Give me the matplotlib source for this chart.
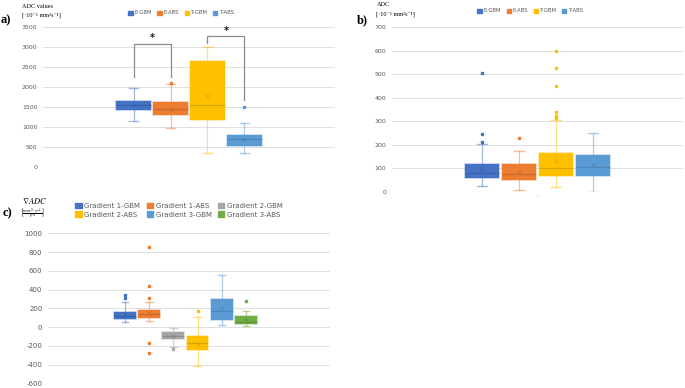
import numpy as np
import matplotlib
matplotlib.use("Agg")
import matplotlib.pyplot as plt
from matplotlib.patches import Patch
from matplotlib.colors import to_rgba

# ---- data ----
# panel a: ADC values [10^-6 mm^2 s^-1]
a_labels = ["E-GBM", "E-ABS", "T-GBM", "T-ABS"]
a_whislo = [1150, 980, 350, 350]
a_q1 = [1430, 1290, 1170, 520]
a_med = [1560, 1460, 1550, 700]
a_q3 = [1660, 1620, 2660, 800]
a_whishi = [1970, 2080, 3000, 1110]
a_mean = [1550, 1460, 1780, 710]
a_fliers = [[], [2100], [], [1510]]

# significance brackets in panel a: (left box, right box, top, left drop, right drop)
a_brackets = [(1, 2, 3080, 2250, 2250), (3, 4, 3275, 3110, 1670)]

# panel b: ADC [10^-6 mm^2 s^-1]
b_labels = ["E-GBM", "E-ABS", "T-GBM", "T-ABS"]
b_whislo = [24, 10, 20, 0]
b_q1 = [58, 50, 66, 66]
b_med = [82, 78, 103, 106]
b_q3 = [120, 117, 164, 157]
b_whishi = [202, 172, 304, 251]
b_mean = [99, 86, 131, 113]
b_fliers = [[213, 244, 503], [227], [315, 323, 339, 448, 524, 599], []]

# panel c: gradient of ADC
c_labels = ["Gradient 1-GBM", "Gradient 1-ABS", "Gradient 2-GBM",
            "Gradient 2-ABS", "Gradient 3-GBM", "Gradient 3-ABS"]
c_whislo = [49, 64, -210, -417, 25, 7]
c_q1 = [81, 99, -128, -240, 78, 28]
c_med = [120, 138, -92, -173, 169, 49]
c_q3 = [162, 177, -57, -99, 297, 113]
c_whishi = [272, 265, -14, 106, 558, 176]
c_mean = [134, 152, -100, -178, 205, 81]
c_fliers = [[311, 342], [307, 438, 858, -173, -279], [-232], [169], [], [279]]

ab_colors = ["#4472C4", "#ED7D31", "#FFC000", "#5B9BD5"]
c_colors = ["#4472C4", "#ED7D31", "#A5A5A5", "#FFC000", "#5B9BD5", "#70AD47"]

W, H = 685, 388
fig = plt.figure(figsize=(W / 100, H / 100), dpi=100)

tick_col = "#595959"
grid_col = "#D9D9D9"
serif = ["Liberation Serif", "DejaVu Serif"]


def darker(c, f=0.75):
    r, g, b, _ = to_rgba(c)
    return (r * f, g * f, b * f, 1)


def draw_boxes(ax, labels, lo, q1, med, q3, hi, mean, fliers, colors, width, capw, fsize):
    stats = []
    for i in range(len(labels)):
        stats.append(dict(label=labels[i], whislo=lo[i], q1=q1[i], med=med[i], q3=q3[i],
                          whishi=hi[i], mean=mean[i], fliers=fliers[i]))
    pos = np.arange(1, len(labels) + 1)
    for p, s, c in zip(pos, stats, colors):
        ax.bxp([s], positions=[p], widths=width, patch_artist=True, showmeans=True,
               capwidths=capw, manage_ticks=False,
               boxprops=dict(facecolor=c, edgecolor=to_rgba(c, 0.35), linewidth=1.2),
               whiskerprops=dict(color=to_rgba(c, 0.5), linewidth=0.9),
               capprops=dict(color=to_rgba(c, 0.5), linewidth=1.0),
               medianprops=dict(color=to_rgba(darker(c), 0.55), linewidth=0.9),
               meanprops=dict(marker="x", markersize=fsize, markeredgecolor=to_rgba(darker(c), 0.5),
                              markeredgewidth=0.6),
               flierprops=dict(marker="s", markersize=1.6, markerfacecolor=c,
                               markeredgecolor=c, linestyle="none"))
    return pos


def style_axes(ax, yticks, fs):
    ax.set_yticks(yticks)
    ax.set_yticklabels([str(t) for t in yticks], fontsize=fs, color=tick_col)
    ax.grid(axis="y", color=grid_col, linewidth=0.6)
    ax.set_axisbelow(True)
    for s in ax.spines.values():
        s.set_visible(False)
    ax.tick_params(length=0, pad=4)
    ax.set_xticks([])


# ---- panel a ----
axa = fig.add_axes([43 / W, 1 - 167 / H, 292 / W, 140 / H])
draw_boxes(axa, a_labels, a_whislo, a_q1, a_med, a_q3, a_whishi, a_mean, a_fliers,
           ab_colors, 0.93, 0.26, 3.5)
axa.set_xlim(-1.45, 6.45)
axa.set_ylim(0, 3500)
style_axes(axa, np.arange(0, 3501, 500), 4.5)
for l, r, top, dl, dr in a_brackets:
    axa.plot([l, l, r, r], [dl, top, top, dr], color="#8C8C8C", linewidth=0.9, clip_on=False)
    axa.text((l + r) / 2, top + 10, "*", ha="center", va="bottom", fontsize=7,
             fontweight="bold", color="#111111")
axa.legend(handles=[Patch(color=c, label=l) for c, l in zip(ab_colors, a_labels)],
           loc="center", bbox_to_anchor=(0.474, 1.10), ncol=4, frameon=False,
           fontsize=3.8, handlelength=0.8, handleheight=0.8, handletextpad=0.4,
           columnspacing=1.0, labelcolor=tick_col)
fig.text(22 / W, 1 - 6 / H, "ADC values", family=serif, fontsize=4.5, va="center")
fig.text(22 / W, 1 - 15 / H, "[·10⁻⁶ mm²s⁻¹]", family=serif, fontsize=4.5, va="center")
fig.text(1 / W, 1 - 20 / H, "a)", family=serif, fontsize=9, fontweight="bold", va="center")

# ---- panel b ----
axb = fig.add_axes([392 / W, 1 - 192 / H, 291 / W, 165 / H])
draw_boxes(axb, b_labels, b_whislo, b_q1, b_med, b_q3, b_whishi, b_mean, b_fliers,
           ab_colors, 0.92, 0.26, 3.5)
axb.set_xlim(-1.43, 6.43)
axb.set_ylim(0, 700)
style_axes(axb, np.arange(0, 701, 100), 4.5)
axb.set_xticks([2.5])
axb.set_xticklabels(["-"], fontsize=3, color=tick_col)
axb.tick_params(axis="x", pad=1)
axb.legend(handles=[Patch(color=c, label=l) for c, l in zip(ab_colors, b_labels)],
           loc="center", bbox_to_anchor=(0.476, 1.097), ncol=4, frameon=False,
           fontsize=3.8, handlelength=0.8, handleheight=0.8, handletextpad=0.4,
           columnspacing=1.0, labelcolor=tick_col)
fig.text(377 / W, 1 - 4 / H, "ADC", family=serif, fontsize=4.5, va="center")
fig.text(376 / W, 1 - 14 / H, "[·10⁻⁶ mm²s⁻¹]", family=serif, fontsize=4.5, va="center")
fig.text(357 / W, 1 - 20 / H, "b)", family=serif, fontsize=9, fontweight="bold", va="center")

# ---- panel c ----
axc = fig.add_axes([48 / W, 1 - 383.3 / H, 282 / W, 150 / H])
draw_boxes(axc, c_labels, c_whislo, c_q1, c_med, c_q3, c_whishi, c_mean, c_fliers,
           c_colors, 0.9, 0.28, 3.5)
axc.set_xlim(-2.18, 9.47)
axc.set_ylim(-600, 1000)
style_axes(axc, np.arange(-600, 1001, 200), 5)
# legend reads row by row (3 per row), matplotlib fills column by column
c_handles = [Patch(color=c, label=l) for c, l in zip(c_colors, c_labels)]
c_order = [0, 3, 1, 4, 2, 5]
axc.legend(handles=[c_handles[i] for i in c_order],
           loc="center", bbox_to_anchor=(0.465, 1.155), ncol=3, frameon=False,
           fontsize=5, handlelength=0.9, handleheight=0.9, handletextpad=0.4,
           columnspacing=0.9, labelspacing=0.35, labelcolor=tick_col)
fig.text(22 / W, 1 - 201 / H, r"$\nabla ADC$", fontsize=6, va="center",
         math_fontfamily="stix")
fig.text(20 / W, 1 - 214 / H, r"$\left[\frac{mm^2\!\cdot s^{-1}}{px}\right]$", fontsize=5,
         va="center", math_fontfamily="stix")
fig.text(3 / W, 1 - 213 / H, "c)", family=serif, fontsize=9, fontweight="bold", va="center")

fig.savefig("out.png", dpi=100, facecolor="white")
